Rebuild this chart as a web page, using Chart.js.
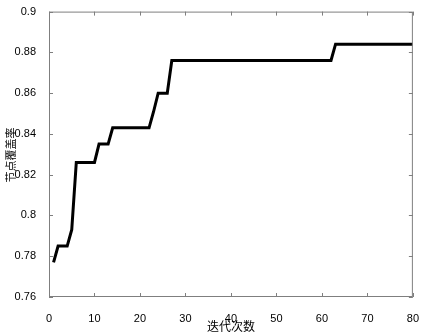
<!DOCTYPE html>
<html>
<head>
<meta charset="utf-8">
<script src="https://cdn.jsdelivr.net/npm/chart.js@4.4.0/dist/chart.umd.min.js"></script>
<style>
  html, body { margin: 0; padding: 0; background: #fff; }
  #wrap { width: 426px; height: 335px; }
</style>
</head>
<body>
<div id="wrap"><canvas id="myChart"></canvas></div>
<script>
// breakpoints of the coverage curve (iteration, coverage)
const iterations = [1, 2, 4, 5, 6, 10, 11, 13, 14, 22, 23, 24, 26, 27, 62, 63, 80];
const coverage = [0.777, 0.785, 0.785, 0.793, 0.826, 0.826, 0.835, 0.835, 0.843, 0.843, 0.851, 0.860, 0.860, 0.876, 0.876, 0.884, 0.884];
const xTicks = [0, 10, 20, 30, 40, 50, 60, 70, 80];
const yTicks = [0.76, 0.78, 0.8, 0.82, 0.84, 0.86, 0.88, 0.9];
const xTitle = '迭代次数';
const yTitle = '节点覆盖率';

// MATLAB style box with inward ticks, plus axis titles
const boxTicks = {
    id: 'boxTicks',
    afterDraw(chart) {
        const c = chart.ctx, a = chart.chartArea;
        const sx = chart.scales.x, sy = chart.scales.y;
        c.save();
        c.strokeStyle = '#7f7f7f';
        c.lineWidth = 1;
        c.strokeRect(a.left + 0.5, a.top + 0.5, a.right - a.left - 1, a.bottom - a.top - 1);
        c.beginPath();
        xTicks.forEach(v => {
            const x = Math.round(sx.getPixelForValue(v)) + 0.5;
            c.moveTo(x, a.bottom); c.lineTo(x, a.bottom - 4);
            c.moveTo(x, a.top); c.lineTo(x, a.top + 4);
        });
        yTicks.forEach(v => {
            const y = Math.round(sy.getPixelForValue(v)) + 0.5;
            c.moveTo(a.left, y); c.lineTo(a.left + 4, y);
            c.moveTo(a.right, y); c.lineTo(a.right - 4, y);
        });
        c.stroke();

        c.fillStyle = '#000';
        c.textAlign = 'center';
        c.textBaseline = 'middle';
        c.font = '12px "Noto Sans CJK SC"';
        c.fillText(xTitle, (a.left + a.right) / 2, 326);
        c.translate(11, 155);
        c.rotate(-Math.PI / 2);
        c.font = '11px "Noto Sans CJK SC"';
        c.fillText(yTitle, 0, 0);
        c.restore();
    }
};

const ctx = document.getElementById('myChart').getContext('2d');
const myChart = new Chart(ctx, {
    type: 'line',
    data: {
        datasets: [{
            data: iterations.map((x, i) => ({ x: x, y: coverage[i] })),
            borderColor: '#000',
            borderWidth: 3,
            pointRadius: 0,
            tension: 0,
            fill: false
        }]
    },
    options: {
        responsive: true,
        maintainAspectRatio: false,
        animation: false,
        layout: { padding: { top: 7, right: 11, left: 0, bottom: 0 } },
        plugins: { legend: { display: false }, tooltip: { enabled: false } },
        scales: {
            x: {
                type: 'linear',
                min: 0, max: 80,
                afterBuildTicks: s => { s.ticks = xTicks.map(v => ({ value: v })); },
                afterFit: s => { s.height = 38; },
                grid: { display: false },
                border: { display: false },
                ticks: { color: '#000', padding: 7, font: { family: 'Liberation Sans', size: 11 } }
            },
            y: {
                min: 0.76, max: 0.9,
                afterBuildTicks: s => { s.ticks = yTicks.map(v => ({ value: v })); },
                afterFit: s => { s.width = 49; },
                grid: { display: false },
                border: { display: false },
                ticks: { color: '#000', padding: 5, font: { family: 'Liberation Sans', size: 11 },
                    callback: v => String(+v.toFixed(2)) }
            }
        }
    },
    plugins: [boxTicks]
});
</script>
</body>
</html>
